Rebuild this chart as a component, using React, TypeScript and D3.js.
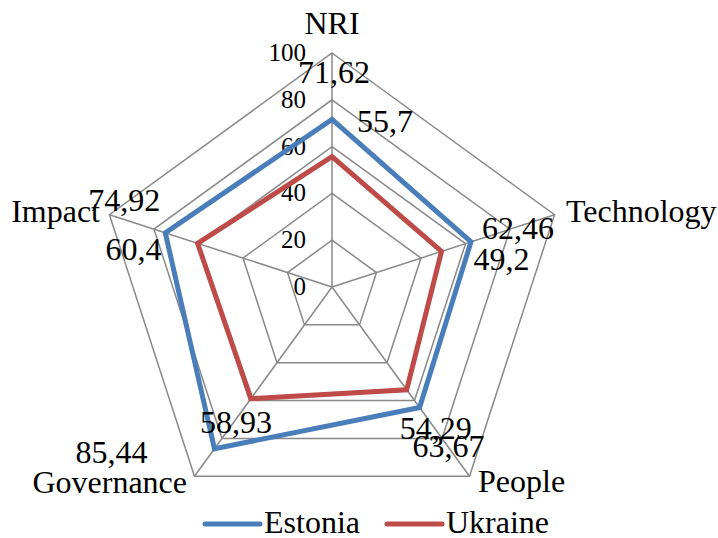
import React from 'react';
import * as d3 from 'd3';

const axes = ['NRI', 'Technology', 'People', 'Governance', 'Impact'];
const estonia = [71.62, 62.46, 63.67, 85.44, 74.92];
const ukraine = [55.7, 49.2, 54.29, 58.93, 60.4];
const ticks = [0, 20, 40, 60, 80, 100];

// label placement relative to each point (start anchor, baseline)
const estoniaLabelOffset = [[-34, -36], [11, -3], [-7, 49], [-139, 14], [-77, -22]];
const ukraineLabelOffset = [[25, -25], [32, 19], [-7, 49], [-51, 34], [-92, 17]];

const W = 718;
const H = 538;
const cx = 332;
const cy = 287;
const R = 234;
const serif = { fontFamily: 'Liberation Serif' };

const r = d3.scaleLinear().domain([0, 100]).range([0, R]);
const angle = (i: number) => (i * 2 * Math.PI) / axes.length;
const pt = (i: number, v: number): [number, number] => [
  cx + r(v) * Math.sin(angle(i)),
  cy - r(v) * Math.cos(angle(i)),
];

const closed = d3.line<[number, number]>().curve(d3.curveLinearClosed);

const series = [
  { name: 'Estonia', values: estonia, color: '#4A7EBB', offs: estoniaLabelOffset },
  { name: 'Ukraine', values: ukraine, color: '#BE4B48', offs: ukraineLabelOffset },
];

const axisLabels = [
  { x: 332, y: 34, anchor: 'middle' },
  { x: 566, y: 222, anchor: 'start' },
  { x: 478, y: 492, anchor: 'start' },
  { x: 187, y: 493, anchor: 'end' },
  { x: 100, y: 222, anchor: 'end' },
];

export default function App() {
  return (
    <svg width={W} height={H} style={{ position: 'absolute', left: 0, top: 0, background: '#fff' }}>
      <g fill="none" stroke="#898989" strokeWidth={1.5}>
        {ticks.slice(1).map((t) => (
          <path key={t} d={closed(axes.map((_, i) => pt(i, t))) || ''} />
        ))}
        {axes.map((a, i) => {
          const [x, y] = pt(i, 100);
          return <line key={a} x1={cx} y1={cy} x2={x} y2={y} />;
        })}
      </g>
      {ticks.map((t) => (
        <text key={t} x={cx - 26} y={cy - r(t) + 8} fontSize={25} textAnchor="end" style={serif}>
          {t}
        </text>
      ))}
      {series.map((s) => (
        <path
          key={s.name}
          d={closed(s.values.map((v, i) => pt(i, v))) || ''}
          fill="none"
          stroke={s.color}
          strokeWidth={5}
          strokeLinejoin="miter"
        />
      ))}
      {series.map((s) =>
        s.values.map((v, i) => {
          const [x, y] = pt(i, v);
          return (
            <text key={s.name + i} x={x + s.offs[i][0]} y={y + s.offs[i][1]} fontSize={32} style={serif}>
              {String(v).replace('.', ',')}
            </text>
          );
        })
      )}
      {axes.map((a, i) => (
        <text
          key={a}
          x={axisLabels[i].x}
          y={axisLabels[i].y}
          fontSize={32}
          textAnchor={axisLabels[i].anchor as any}
          style={serif}
        >
          {a}
        </text>
      ))}
      {series.map((s, k) => {
        const x0 = 205 + k * 182;
        return (
          <g key={s.name}>
            <line x1={x0} y1={524} x2={x0 + 55} y2={524} stroke={s.color} strokeWidth={5} strokeLinecap="round" />
            <text x={x0 + 59} y={533} fontSize={32} style={serif}>{s.name}</text>
          </g>
        );
      })}
    </svg>
  );
}
